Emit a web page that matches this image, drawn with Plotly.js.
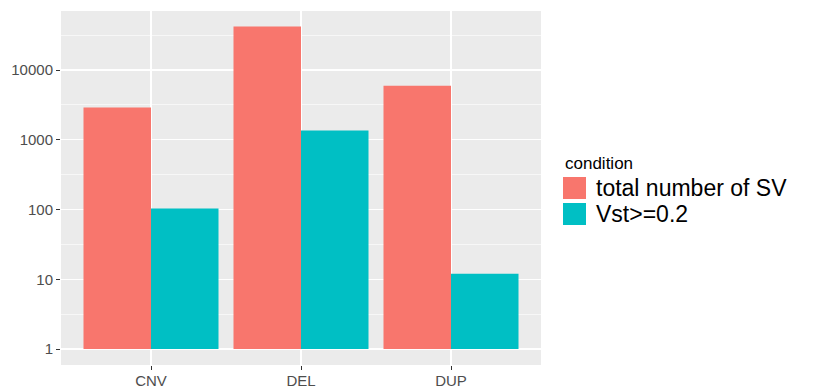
<!DOCTYPE html>
<html>
<head>
<meta charset="utf-8">
<script src="https://cdn.plot.ly/plotly-3.0.1.min.js"></script>
<style>html,body{margin:0;padding:0;background:#fff;}#chart{width:820px;height:390px;}</style>
</head>
<body>
<div id="chart"></div>
<script>
// ---- data ----
const categories = ["CNV", "DEL", "DUP"];
const seriesNames = ["total number of SV", "Vst>=0.2"];
const totalSV = [2900, 42000, 5950];
const vstAbove = [103, 1360, 12];
const seriesColors = ["#F8766D", "#00BFC4"];
const yTickVals = [1, 10, 100, 1000, 10000];
const yTickText = ["1", "10", "100", "1000", "10000"];
const yMinorVals = [3.1623, 31.623, 316.23, 3162.3, 31623];
const legendTitle = "condition";

// ---- layout geometry (pixels) ----
const W = 820, H = 390;
const L = 61, R = 541, T = 11, B = 365;
const px = x => (x - L) / (R - L);
const py = y => (B - y) / (B - T);

const series = [totalSV, vstAbove];
const traces = series.map((vals, i) => ({
  type: "bar",
  name: seriesNames[i],
  x: categories,
  base: 1,
  y: vals.map(v => v - 1),
  marker: { color: seriesColors[i], line: { width: 0 } },
  showlegend: false,
  hovertemplate: "%{x}: " + "%{customdata}<extra>" + seriesNames[i] + "</extra>",
  customdata: vals
}));

const font = "Liberation Sans, Arial, sans-serif";
const shapes = [];
const annotations = [];
// manual legend (ggplot-style big keys)
annotations.push({
  xref: "paper", yref: "paper", x: px(563), y: py(152), xanchor: "left", yanchor: "top",
  text: legendTitle, showarrow: false, font: { family: font, size: 17, color: "#000" }
});
const keyTops = [177, 203];
seriesNames.forEach((n, i) => {
  shapes.push({
    type: "rect", xref: "paper", yref: "paper",
    x0: px(563), x1: px(586), y0: py(keyTops[i]), y1: py(keyTops[i] + 22),
    fillcolor: seriesColors[i], line: { width: 0 }
  });
  annotations.push({
    xref: "paper", yref: "paper", x: px(594), y: py(keyTops[i] + 11), xanchor: "left", yanchor: "middle",
    text: n, showarrow: false, font: { family: font, size: 23, color: "#000" }
  });
});

const layout = {
  width: W, height: H,
  margin: { l: L, r: W - R, t: T, b: H - B, pad: 0 },
  paper_bgcolor: "#ffffff",
  plot_bgcolor: "#EBEBEB",
  barmode: "group",
  bargap: 0.1,
  bargroupgap: 0,
  showlegend: false,
  font: { family: font },
  xaxis: {
    type: "category",
    range: [-0.6, 2.6],
    showgrid: true, gridcolor: "#ffffff", gridwidth: 1.3,
    zeroline: false, showline: false,
    ticks: "outside", ticklen: 4, tickwidth: 1, tickcolor: "#333333",
    ticklabelstandoff: -2,
    tickfont: { family: font, size: 15, color: "#4D4D4D" },
    fixedrange: true
  },
  yaxis: {
    type: "log",
    range: [-0.229, 4.846],
    tickmode: "array", tickvals: yTickVals, ticktext: yTickText,
    showgrid: true, gridcolor: "#ffffff", gridwidth: 1.3,
    minor: { tickmode: "array", tickvals: yMinorVals, showgrid: true, gridcolor: "#ffffff", gridwidth: 0.6, ticks: "" },
    zeroline: false, showline: false,
    ticks: "outside", ticklen: 4, tickwidth: 1, tickcolor: "#333333",
    tickfont: { family: font, size: 15, color: "#4D4D4D" },
    fixedrange: true
  },
  shapes: shapes,
  annotations: annotations
};

Plotly.newPlot("chart", traces, layout, { displayModeBar: false, staticPlot: true });
</script>
</body>
</html>
